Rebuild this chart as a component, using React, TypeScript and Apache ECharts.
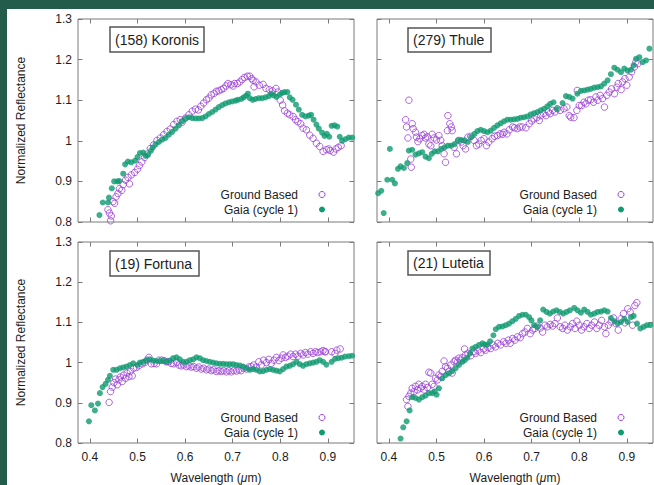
import React, { useEffect, useRef } from "react";
import * as echarts from "echarts";

// ---------- data ----------
const xTicks = [0.4, 0.5, 0.6, 0.7, 0.8, 0.9];
const xMin = 0.375;
const xMax = 0.955;
const yMin = 0.8;
const yMax = 1.3;
const yStep = 0.1;

const panelTitles = ["(158) Koronis", "(279) Thule", "(19) Fortuna", "(21) Lutetia"];
const legendLabels = ["Ground Based", "Gaia (cycle 1)"];
const xName = "Wavelength ({i|μ}m)";
const yName = "Normalized Reflectance";

const koronisGround = [
  [0.4435, 0.803], [0.445, 0.815], [0.438, 0.83], [0.441, 0.822], [0.4485, 0.85], [0.452, 0.846], [0.455, 0.862],
  [0.459, 0.87], [0.462, 0.882], [0.467, 0.878], [0.47, 0.892], [0.475, 0.903], [0.48, 0.91], [0.483, 0.894],
  [0.487, 0.916], [0.494, 0.922], [0.5, 0.93], [0.504, 0.939], [0.509, 0.948], [0.515, 0.959], [0.52, 0.967],
  [0.527, 0.981], [0.534, 0.99], [0.541, 1.001], [0.548, 1.007], [0.555, 1.015], [0.562, 1.023], [0.569, 1.029],
  [0.576, 1.04], [0.583, 1.048], [0.59, 1.052], [0.594, 1.046], [0.601, 1.056], [0.608, 1.064], [0.615, 1.073],
  [0.622, 1.078], [0.628, 1.076], [0.633, 1.085], [0.639, 1.093], [0.645, 1.101], [0.65, 1.105], [0.655, 1.113],
  [0.661, 1.117], [0.666, 1.122], [0.671, 1.123], [0.676, 1.126], [0.681, 1.129], [0.686, 1.135], [0.69, 1.141],
  [0.696, 1.138], [0.701, 1.135], [0.704, 1.141], [0.71, 1.141], [0.715, 1.145], [0.72, 1.151], [0.725, 1.156],
  [0.731, 1.159], [0.736, 1.159], [0.74, 1.153], [0.743, 1.149], [0.745, 1.133], [0.749, 1.145], [0.756, 1.137],
  [0.764, 1.139], [0.77, 1.129], [0.777, 1.126], [0.784, 1.123], [0.791, 1.129], [0.795, 1.12], [0.8, 1.1],
  [0.805, 1.088], [0.809, 1.074], [0.815, 1.068], [0.82, 1.064], [0.827, 1.06], [0.832, 1.052], [0.837, 1.047],
  [0.843, 1.042], [0.848, 1.031], [0.855, 1.027], [0.862, 1.014], [0.869, 1.006], [0.876, 0.994], [0.883, 0.986],
  [0.89, 0.974], [0.897, 0.978], [0.902, 0.98], [0.905, 0.976], [0.912, 0.972], [0.917, 0.98], [0.922, 0.984],
  [0.928, 0.988],
];

const koronisGaia = [
  [0.42, 0.817], [0.427, 0.848], [0.438, 0.848], [0.44, 0.86], [0.446, 0.883], [0.451, 0.9], [0.458, 0.9],
  [0.462, 0.901], [0.47, 0.919], [0.474, 0.942], [0.48, 0.949], [0.487, 0.947], [0.495, 0.951], [0.5, 0.96],
  [0.505, 0.97], [0.512, 0.971], [0.517, 0.963], [0.522, 0.965], [0.528, 0.975], [0.532, 0.983], [0.538, 0.991],
  [0.545, 0.997], [0.552, 1.003], [0.559, 1.007], [0.566, 1.015], [0.573, 1.022], [0.58, 1.03], [0.587, 1.038],
  [0.594, 1.048], [0.601, 1.055], [0.608, 1.058], [0.615, 1.056], [0.622, 1.055], [0.629, 1.055], [0.636, 1.056],
  [0.643, 1.06], [0.65, 1.066], [0.657, 1.071], [0.664, 1.077], [0.671, 1.083], [0.678, 1.088], [0.685, 1.092],
  [0.692, 1.095], [0.699, 1.097], [0.706, 1.099], [0.711, 1.101], [0.718, 1.103], [0.723, 1.107], [0.728, 1.111],
  [0.732, 1.116], [0.736, 1.105], [0.742, 1.101], [0.748, 1.103], [0.755, 1.105], [0.762, 1.105], [0.769, 1.107],
  [0.776, 1.11], [0.781, 1.116], [0.786, 1.112], [0.792, 1.108], [0.799, 1.114], [0.804, 1.118], [0.809, 1.12],
  [0.815, 1.12], [0.82, 1.107], [0.826, 1.101], [0.833, 1.089], [0.839, 1.077], [0.846, 1.064], [0.853, 1.06],
  [0.86, 1.062], [0.865, 1.064], [0.87, 1.052], [0.876, 1.04], [0.881, 1.03], [0.888, 1.02], [0.893, 1.012],
  [0.898, 1.017], [0.903, 1.01], [0.908, 1.037], [0.914, 1.038], [0.92, 1.035], [0.925, 1.01], [0.93, 1.0],
  [0.937, 1.004], [0.944, 1.008], [0.951, 1.008],
];

const thuleGround = [
  [0.435, 1.052], [0.442, 1.1], [0.437, 1.034], [0.44, 1.007], [0.449, 1.042], [0.451, 1.03], [0.446, 0.955],
  [0.447, 0.935], [0.456, 1.021], [0.458, 1.009], [0.461, 0.998], [0.465, 1.005], [0.47, 1.013], [0.474, 1.016],
  [0.477, 1.007], [0.481, 1.01], [0.484, 0.992], [0.488, 0.988], [0.491, 1.016], [0.495, 1.007], [0.5, 1.002],
  [0.505, 1.013], [0.509, 1.001], [0.512, 0.988], [0.516, 0.968], [0.519, 0.947], [0.523, 1.025], [0.524, 1.062],
  [0.528, 1.042], [0.531, 1.034], [0.533, 1.025], [0.537, 0.984], [0.542, 0.968], [0.547, 1.001], [0.552, 0.997],
  [0.556, 0.988], [0.561, 0.98], [0.566, 1.009], [0.572, 1.011], [0.579, 1.001], [0.584, 0.988], [0.589, 0.992],
  [0.594, 1.001], [0.6, 1.005], [0.605, 0.988], [0.61, 0.997], [0.617, 1.005], [0.622, 1.011], [0.628, 1.013],
  [0.634, 1.017], [0.639, 1.016], [0.642, 1.021], [0.648, 1.017], [0.653, 1.027], [0.66, 1.034], [0.664, 1.032],
  [0.67, 1.03], [0.675, 1.034], [0.68, 1.034], [0.688, 1.032], [0.695, 1.042], [0.7, 1.049], [0.705, 1.054],
  [0.711, 1.057], [0.716, 1.05], [0.719, 1.062], [0.725, 1.067], [0.73, 1.062], [0.735, 1.071], [0.739, 1.067],
  [0.744, 1.075], [0.749, 1.071], [0.754, 1.079], [0.76, 1.075], [0.768, 1.079], [0.774, 1.083], [0.779, 1.062],
  [0.782, 1.058], [0.789, 1.057], [0.795, 1.075], [0.796, 1.124], [0.8, 1.087], [0.805, 1.087], [0.81, 1.095],
  [0.814, 1.091], [0.819, 1.1], [0.824, 1.101], [0.83, 1.095], [0.835, 1.108], [0.839, 1.1], [0.844, 1.112],
  [0.849, 1.104], [0.853, 1.083], [0.858, 1.112], [0.863, 1.12], [0.868, 1.128], [0.874, 1.116], [0.879, 1.132],
  [0.882, 1.141], [0.888, 1.126], [0.891, 1.145], [0.896, 1.153], [0.9, 1.137], [0.905, 1.157], [0.91, 1.17],
  [0.916, 1.182], [0.919, 1.194], [0.923, 1.19],
];

const thuleGaia = [
  [0.3775, 0.871], [0.384, 0.877], [0.389, 0.822], [0.3965, 0.904], [0.402, 0.98], [0.407, 0.904], [0.4126, 0.895],
  [0.419, 0.931], [0.4245, 0.937], [0.4315, 0.933], [0.4386, 0.945], [0.442, 0.976], [0.449, 0.978], [0.456, 0.966],
  [0.463, 0.969], [0.47, 0.972], [0.477, 0.961], [0.484, 0.957], [0.49, 0.968], [0.496, 0.974], [0.503, 0.974],
  [0.51, 0.98], [0.517, 0.984], [0.524, 0.988], [0.531, 0.988], [0.538, 0.992], [0.545, 1.001], [0.552, 1.002],
  [0.559, 1.001], [0.566, 0.997], [0.573, 1.009], [0.58, 1.017], [0.586, 1.024], [0.593, 1.027], [0.6, 1.024],
  [0.607, 1.021], [0.614, 1.025], [0.621, 1.032], [0.628, 1.038], [0.635, 1.043], [0.642, 1.048], [0.649, 1.052],
  [0.656, 1.052], [0.663, 1.053], [0.67, 1.054], [0.677, 1.057], [0.684, 1.058], [0.691, 1.06], [0.698, 1.065],
  [0.705, 1.068], [0.712, 1.071], [0.719, 1.075], [0.726, 1.079], [0.733, 1.085], [0.739, 1.091], [0.746, 1.095],
  [0.753, 1.079], [0.765, 1.093], [0.772, 1.11], [0.779, 1.108], [0.786, 1.104], [0.796, 1.116], [0.8035, 1.123],
  [0.8105, 1.124], [0.8175, 1.126], [0.8245, 1.128], [0.8316, 1.131], [0.8386, 1.132], [0.8456, 1.134],
  [0.8526, 1.141], [0.8596, 1.149], [0.8666, 1.164], [0.8737, 1.18], [0.8807, 1.175], [0.8877, 1.169],
  [0.8947, 1.178], [0.9017, 1.173], [0.9088, 1.175], [0.9143, 1.186], [0.9193, 1.202], [0.9263, 1.206],
  [0.9333, 1.194], [0.9403, 1.198], [0.9474, 1.227],
];

const fortunaGround = [
  [0.4404, 0.901], [0.4435, 0.928], [0.447, 0.939], [0.4505, 0.95], [0.454, 0.959], [0.4575, 0.945], [0.461, 0.957],
  [0.464, 0.964], [0.468, 0.953], [0.471, 0.969], [0.475, 0.961], [0.478, 0.974], [0.482, 0.965], [0.485, 0.978],
  [0.489, 0.967], [0.492, 0.986], [0.498, 0.988], [0.503, 0.992], [0.51, 0.997], [0.515, 1.0], [0.52, 1.006],
  [0.524, 1.013], [0.529, 0.997], [0.535, 0.998], [0.54, 0.997], [0.545, 1.006], [0.551, 1.006], [0.556, 1.005],
  [0.561, 1.002], [0.566, 1.002], [0.571, 0.998], [0.576, 0.997], [0.582, 1.0], [0.587, 0.994], [0.592, 0.992],
  [0.597, 0.994], [0.603, 0.99], [0.608, 0.992], [0.613, 0.989], [0.618, 0.99], [0.624, 0.986], [0.629, 0.989],
  [0.634, 0.984], [0.639, 0.986], [0.645, 0.982], [0.65, 0.984], [0.655, 0.98], [0.66, 0.982], [0.666, 0.978],
  [0.671, 0.98], [0.676, 0.978], [0.681, 0.98], [0.687, 0.977], [0.692, 0.98], [0.697, 0.977], [0.702, 0.98],
  [0.708, 0.979], [0.713, 0.982], [0.718, 0.98], [0.723, 0.986], [0.729, 0.984], [0.734, 0.989], [0.739, 0.99],
  [0.744, 0.994], [0.75, 0.989], [0.755, 1.002], [0.76, 0.994], [0.765, 1.006], [0.771, 1.0], [0.776, 1.008],
  [0.781, 0.998], [0.787, 1.006], [0.792, 1.013], [0.797, 1.005], [0.802, 1.011], [0.806, 1.019], [0.811, 1.013],
  [0.816, 1.016], [0.822, 1.021], [0.827, 1.015], [0.832, 1.021], [0.837, 1.016], [0.843, 1.023], [0.848, 1.019],
  [0.853, 1.025], [0.858, 1.021], [0.864, 1.027], [0.869, 1.023], [0.874, 1.027], [0.879, 1.025], [0.885, 1.027],
  [0.89, 1.03], [0.894, 1.027], [0.895, 1.027], [0.908, 1.027], [0.915, 1.023], [0.919, 1.031], [0.926, 1.034],
];

const fortunaGaia = [
  [0.398, 0.854], [0.403, 0.894], [0.4105, 0.881], [0.417, 0.898], [0.421, 0.924], [0.4266, 0.939], [0.433, 0.947],
  [0.438, 0.957], [0.442, 0.967], [0.449, 0.982], [0.456, 0.982], [0.463, 0.986], [0.47, 0.988], [0.477, 0.99],
  [0.484, 0.994], [0.491, 0.998], [0.5, 0.994], [0.505, 1.0], [0.512, 1.002], [0.519, 1.006], [0.526, 1.008],
  [0.533, 1.005], [0.54, 1.004], [0.547, 1.004], [0.554, 1.005], [0.561, 1.002], [0.568, 1.005], [0.575, 1.011],
  [0.582, 1.013], [0.589, 1.008], [0.596, 1.002], [0.603, 1.002], [0.61, 1.006], [0.617, 1.008], [0.624, 1.013],
  [0.631, 1.011], [0.638, 1.006], [0.645, 1.004], [0.652, 1.002], [0.659, 1.0], [0.666, 0.998], [0.673, 0.997],
  [0.68, 0.997], [0.687, 0.996], [0.694, 0.996], [0.701, 0.996], [0.708, 0.994], [0.715, 0.993], [0.722, 0.99],
  [0.729, 0.986], [0.736, 0.982], [0.743, 0.984], [0.75, 0.982], [0.757, 0.978], [0.764, 0.979], [0.771, 0.982],
  [0.778, 0.984], [0.785, 0.982], [0.792, 0.98], [0.799, 0.978], [0.806, 0.984], [0.813, 0.99], [0.82, 0.992],
  [0.827, 0.996], [0.834, 1.002], [0.841, 0.996], [0.848, 0.992], [0.855, 0.996], [0.862, 0.998], [0.869, 1.0],
  [0.876, 1.002], [0.883, 1.006], [0.89, 1.002], [0.897, 0.995], [0.908, 1.002], [0.915, 1.009], [0.922, 1.011],
  [0.929, 1.012], [0.936, 1.015], [0.944, 1.016], [0.951, 1.017],
];

const lutetiaGround = [
  [0.44, 0.891], [0.437, 0.908], [0.442, 0.916], [0.446, 0.924], [0.449, 0.936], [0.453, 0.928], [0.456, 0.941],
  [0.46, 0.932], [0.463, 0.946], [0.467, 0.936], [0.47, 0.941], [0.474, 0.932], [0.477, 0.946], [0.481, 0.938],
  [0.484, 0.976], [0.488, 0.974], [0.491, 0.946], [0.495, 0.941], [0.498, 0.961], [0.502, 0.957], [0.505, 0.969],
  [0.509, 0.965], [0.512, 0.978], [0.516, 1.004], [0.519, 0.99], [0.523, 0.986], [0.526, 0.978], [0.53, 0.994],
  [0.533, 0.974], [0.537, 1.002], [0.54, 1.006], [0.544, 1.001], [0.547, 1.011], [0.551, 1.006], [0.554, 1.012],
  [0.559, 1.034], [0.561, 1.019], [0.566, 1.023], [0.572, 1.017], [0.578, 1.027], [0.582, 1.023], [0.587, 1.029],
  [0.593, 1.025], [0.599, 1.034], [0.6035, 1.031], [0.608, 1.037], [0.614, 1.035], [0.619, 1.044], [0.624, 1.039],
  [0.629, 1.048], [0.635, 1.044], [0.641, 1.052], [0.646, 1.048], [0.651, 1.056], [0.655, 1.048], [0.66, 1.06],
  [0.665, 1.056], [0.67, 1.064], [0.676, 1.062], [0.681, 1.072], [0.686, 1.076], [0.691, 1.085], [0.697, 1.072],
  [0.702, 1.081], [0.707, 1.085], [0.712, 1.091], [0.718, 1.086], [0.723, 1.076], [0.728, 1.093], [0.733, 1.089],
  [0.739, 1.095], [0.744, 1.091], [0.749, 1.097], [0.754, 1.111], [0.76, 1.089], [0.765, 1.085], [0.77, 1.093],
  [0.775, 1.081], [0.781, 1.089], [0.786, 1.097], [0.791, 1.085], [0.795, 1.103], [0.8, 1.093], [0.805, 1.081],
  [0.81, 1.089], [0.816, 1.097], [0.821, 1.085], [0.826, 1.093], [0.832, 1.101], [0.837, 1.085], [0.842, 1.093],
  [0.847, 1.105], [0.853, 1.089], [0.856, 1.072], [0.861, 1.093], [0.867, 1.101], [0.872, 1.111], [0.877, 1.097],
  [0.882, 1.081], [0.888, 1.109], [0.893, 1.122], [0.896, 1.099], [0.902, 1.134], [0.907, 1.126], [0.912, 1.093],
  [0.917, 1.142], [0.921, 1.149],
];

const lutetiaGaia = [
  [0.4245, 0.811], [0.4301, 0.839], [0.4372, 0.854], [0.4435, 0.881], [0.4491, 0.914], [0.4561, 0.912],
  [0.4631, 0.908], [0.4701, 0.914], [0.4772, 0.918], [0.4842, 0.924], [0.4912, 0.924], [0.4961, 0.928],
  [0.5003, 0.92], [0.5052, 0.936], [0.5122, 0.961], [0.5193, 0.969], [0.5263, 0.973], [0.5333, 0.979],
  [0.5403, 0.986], [0.5473, 0.994], [0.5543, 1.002], [0.5593, 1.006], [0.5649, 1.012], [0.5705, 1.023],
  [0.5754, 1.035], [0.5824, 1.039], [0.5894, 1.044], [0.5965, 1.048], [0.6014, 1.045], [0.607, 1.045],
  [0.6126, 1.053], [0.6196, 1.068], [0.6245, 1.083], [0.6315, 1.089], [0.6386, 1.09], [0.6456, 1.093],
  [0.6526, 1.097], [0.6596, 1.103], [0.6666, 1.109], [0.6737, 1.116], [0.6807, 1.119], [0.6877, 1.119],
  [0.6947, 1.113], [0.6996, 1.105], [0.7052, 1.093], [0.7122, 1.089], [0.7178, 1.105], [0.7242, 1.132],
  [0.7312, 1.126], [0.7382, 1.122], [0.7452, 1.127], [0.7523, 1.13], [0.7593, 1.126], [0.7663, 1.122],
  [0.7733, 1.126], [0.7803, 1.13], [0.7894, 1.136], [0.7964, 1.13], [0.8035, 1.124], [0.8105, 1.132],
  [0.8175, 1.126], [0.8245, 1.119], [0.8316, 1.122], [0.8386, 1.126], [0.8456, 1.127], [0.8526, 1.13],
  [0.8596, 1.127], [0.8666, 1.111], [0.8737, 1.103], [0.8807, 1.097], [0.8877, 1.101], [0.8947, 1.109],
  [0.9017, 1.101], [0.9087, 1.113], [0.9143, 1.116], [0.9214, 1.097], [0.9284, 1.085], [0.9354, 1.089],
  [0.9424, 1.093], [0.9494, 1.093],
];

const groundSets = [koronisGround, thuleGround, fortunaGround, lutetiaGround];
const gaiaSets = [koronisGaia, thuleGaia, fortunaGaia, lutetiaGaia];

// ---------- styling / layout ----------
const FONT = '"Liberation Sans", Arial, Helvetica, sans-serif';
const PURPLE = "#9b3fd8";
const GREEN = "#0f9a6f";
const FRAME = "#7a7a7a";
const TEXT = "#1c1c1c";
const TICK_LEN = 4.5;

const grids = [
  { left: 78, top: 19, width: 276, height: 203 },
  { left: 377, top: 19, width: 276, height: 203 },
  { left: 78, top: 242, width: 276, height: 203 },
  { left: 377, top: 242, width: 276, height: 203 },
];
const titleBoxes = [
  { dx: 32, dy: 8, w: 94, h: 25 },
  { dx: 31, dy: 9, w: 83, h: 24 },
  { dx: 32, dy: 9, w: 89, h: 25 },
  { dx: 31, dy: 9, w: 82, h: 24 },
];

export default function App() {
  const ref = useRef<HTMLDivElement>(null);

  useEffect(() => {
    document.body.style.margin = "0";
    if (!ref.current) return;
    const chart = echarts.init(ref.current, null, { renderer: "svg" });

    const tick = () => ({
      show: true,
      inside: true,
      length: TICK_LEN,
      customValues: xTicks,
      lineStyle: { color: FRAME, width: 1 },
    });

    const xAxes: any[] = [];
    const yAxes: any[] = [];
    grids.forEach((_, i) => {
      const isBottom = i >= 2;
      const isLeft = i % 2 === 0;
      xAxes.push({
        type: "value",
        gridIndex: i,
        position: "bottom",
        min: xMin,
        max: xMax,
        axisLine: { show: false },
        splitLine: { show: false },
        axisTick: tick(),
        axisLabel: {
          show: isBottom,
          customValues: xTicks,
          margin: 8,
          fontSize: 12,
          fontFamily: FONT,
          color: TEXT,
        },
        name: isBottom ? xName : "",
        nameLocation: "middle",
        nameGap: 29,
        nameTextStyle: {
          fontSize: 12,
          fontFamily: FONT,
          color: TEXT,
          rich: { i: { fontStyle: "italic", fontSize: 12, fontFamily: FONT, color: TEXT } },
        },
      });
      yAxes.push({
        type: "value",
        gridIndex: i,
        position: "left",
        min: yMin,
        max: yMax,
        interval: yStep,
        axisLine: { show: false },
        splitLine: { show: false },
        axisTick: { show: true, inside: true, length: TICK_LEN, lineStyle: { color: FRAME, width: 1 } },
        axisLabel: {
          show: isLeft,
          margin: 6,
          fontSize: 12,
          fontFamily: FONT,
          color: TEXT,
          showMinLabel: true,
          showMaxLabel: true,
        },
        name: isLeft ? yName : "",
        nameLocation: "middle",
        nameGap: 51,
        nameTextStyle: { fontSize: 12, fontFamily: FONT, color: TEXT },
      });
    });
    grids.forEach((_, i) => {
      xAxes.push({
        type: "value",
        gridIndex: i,
        position: "top",
        min: xMin,
        max: xMax,
        axisLine: { show: false },
        splitLine: { show: false },
        axisTick: tick(),
        axisLabel: { show: false, customValues: xTicks },
      });
      yAxes.push({
        type: "value",
        gridIndex: i,
        position: "right",
        min: yMin,
        max: yMax,
        interval: yStep,
        axisLine: { show: false },
        splitLine: { show: false },
        axisTick: { show: true, inside: true, length: TICK_LEN, lineStyle: { color: FRAME, width: 1 } },
        axisLabel: { show: false },
      });
    });

    const series: any[] = [];
    grids.forEach((_, i) => {
      series.push({
        type: "scatter",
        name: legendLabels[0],
        xAxisIndex: i,
        yAxisIndex: i,
        data: groundSets[i],
        symbol: "circle",
        symbolSize: 6.5,
        itemStyle: { color: "rgba(0,0,0,0)", borderColor: PURPLE, borderWidth: 1 },
        emphasis: { disabled: true },
        silent: true,
        z: 2,
      });
      series.push({
        type: "scatter",
        name: legendLabels[1],
        xAxisIndex: i,
        yAxisIndex: i,
        data: gaiaSets[i],
        symbol: "circle",
        symbolSize: 6,
        itemStyle: { color: GREEN },
        emphasis: { disabled: true },
        silent: true,
        z: 3,
      });
    });

    const graphics: any[] = [
      { type: "rect", shape: { x: 7, y: 9, width: 660, height: 490 }, style: { fill: "#ffffff" }, z: -10 },
    ];
    grids.forEach((g, i) => {
      const b = titleBoxes[i];
      graphics.push({
        type: "rect",
        shape: { x: g.left + b.dx, y: g.top + b.dy, width: b.w, height: b.h },
        style: { fill: "#ffffff", stroke: "#555555", lineWidth: 1.5 },
        z: 10,
      });
      graphics.push({
        type: "text",
        x: g.left + b.dx + 5,
        y: g.top + b.dy + b.h / 2,
        style: {
          text: panelTitles[i],
          font: `14px ${FONT}`,
          fill: TEXT,
          textVerticalAlign: "middle",
          verticalAlign: "middle",
        },
        z: 11,
      });
      const right = g.left + g.width;
      const bottom = g.top + g.height;
      const rows = [bottom - 27.5, bottom - 12.5];
      rows.forEach((yy, k) => {
        graphics.push({
          type: "text",
          x: right - 56,
          y: yy,
          style: {
            text: legendLabels[k],
            font: `12px ${FONT}`,
            fill: TEXT,
            align: "right",
            textAlign: "right",
            verticalAlign: "middle",
            textVerticalAlign: "middle",
          },
          z: 11,
        });
        graphics.push({
          type: "circle",
          shape: { cx: right - 32, cy: yy, r: 3 },
          style:
            k === 0
              ? { fill: "none", stroke: PURPLE, lineWidth: 1 }
              : { fill: GREEN, stroke: "none" },
          z: 11,
        });
      });
    });

    chart.setOption({
      animation: false,
      backgroundColor: "#245c4b",
      textStyle: { fontFamily: FONT },
      grid: grids.map((g) => ({
        ...g,
        show: true,
        borderColor: FRAME,
        borderWidth: 1,
        backgroundColor: "transparent",
        containLabel: false,
      })),
      xAxis: xAxes,
      yAxis: yAxes,
      series,
      graphic: graphics,
    });

    return () => chart.dispose();
  }, []);

  return <div ref={ref} style={{ width: 654, height: 485 }} />;
}
